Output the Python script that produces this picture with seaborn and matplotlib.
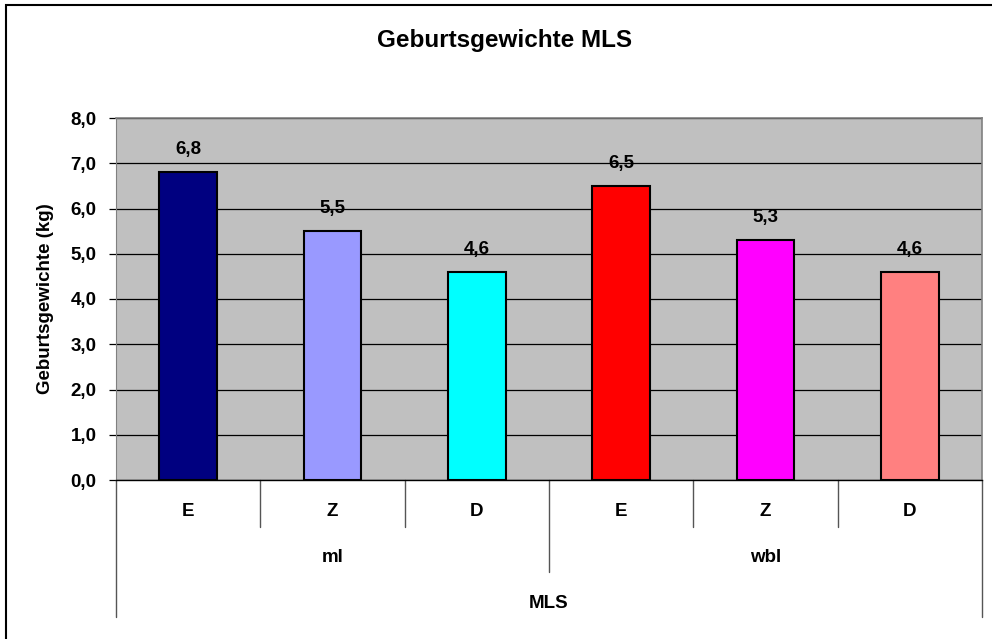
import pandas as pd
import seaborn as sns
import matplotlib.pyplot as plt
from matplotlib.patches import Rectangle

# Chart data
groups = ["ml", "ml", "ml", "wbl", "wbl", "wbl"]
births = ["E", "Z", "D", "E", "Z", "D"]
weights = [6.8, 5.5, 4.6, 6.5, 5.3, 4.6]
bar_colors = ["#000080", "#9999FF", "#00FFFF", "#FF0000", "#FF00FF", "#FF8080"]
y_ticks = [0, 1, 2, 3, 4, 5, 6, 7, 8]

df = pd.DataFrame({"group": groups, "birth": births, "weight": weights})
df["key"] = df["group"] + " " + df["birth"]

sns.set_style("white")
plt.rcParams["font.family"] = ["Liberation Sans", "DejaVu Sans"]
plt.rcParams["font.weight"] = "bold"
plt.rcParams["text.color"] = "black"
plt.rcParams["axes.labelcolor"] = "black"
plt.rcParams["ytick.color"] = "black"

FS = 13.5

fig = plt.figure(figsize=(9.92, 6.39), dpi=100)
ax = fig.add_axes([116 / 992, 1 - 480 / 639, (982 - 116) / 992, (480 - 118) / 639])
ax.set_facecolor("#C0C0C0")

# Bars
sns.barplot(data=df, x="key", y="weight", hue="key", palette=bar_colors,
            saturation=1, width=0.4, edgecolor="black", linewidth=1.5,
            legend=False, ax=ax, zorder=3)

# Value labels
for cont in ax.containers:
    labs = [f"{v:.1f}".replace(".", ",") for v in cont.datavalues]
    ax.bar_label(cont, labels=labs, padding=10, fontsize=FS, fontweight="bold")

# Y axis
ax.set_ylim(0, 8)
ax.set_yticks(y_ticks)
ax.set_yticklabels([f"{t:.1f}".replace(".", ",") for t in y_ticks],
                   fontsize=FS, fontweight="bold")
ax.yaxis.grid(True, color="black", linewidth=0.9, zorder=0)
ax.set_axisbelow(True)
ax.tick_params(axis="y", length=5, width=0.9, color="black", left=True, pad=9)
ax.set_ylabel("Geburtsgewichte (kg)", fontsize=FS, fontweight="bold")
ax.yaxis.set_label_coords(-62 / 866, 0.5)
ax.set_xlim(-0.5, 5.5)

for side in ["top", "right"]:
    ax.spines[side].set_color("#808080")
    ax.spines[side].set_linewidth(1.2)
ax.spines["left"].set_color("#808080")
ax.spines["bottom"].set_color("black")
ax.spines["bottom"].set_linewidth(1.0)

# Hierarchical category axis
ax.set_xticks([])
ax.set_xlabel("")
trans = ax.get_xaxis_transform()
h = 362.0
for i in range(7):
    x = i - 0.5
    if i in (0, 6):
        depth = -137 / h
    elif i == 3:
        depth = -92 / h
    else:
        depth = -47 / h
    ax.plot([x, x], [0, depth], transform=trans, color="#555555",
            linewidth=1.0, clip_on=False)

for i, b in enumerate(births):
    ax.text(i, -31 / h, b, transform=trans, ha="center", va="center",
            fontsize=FS, fontweight="bold")
for g, pos in [("ml", 1), ("wbl", 4)]:
    ax.text(pos, -78 / h, g, transform=trans, ha="center", va="center",
            fontsize=FS, fontweight="bold")
ax.text(2.5, -123 / h, "MLS", transform=trans, ha="center", va="center",
        fontsize=FS, fontweight="bold")

# Title
fig.text(505 / 992, 1 - 40 / 639, "Geburtsgewichte MLS", ha="center",
         va="center", fontsize=17.5, fontweight="bold")

# Chart border
fig.patches.append(Rectangle((5.5 / 992, -0.1), 1.2, 1 - 5.5 / 639 + 0.1,
                             transform=fig.transFigure, fill=False,
                             edgecolor="black", linewidth=1.5))

fig.savefig("out.png", dpi=100)
